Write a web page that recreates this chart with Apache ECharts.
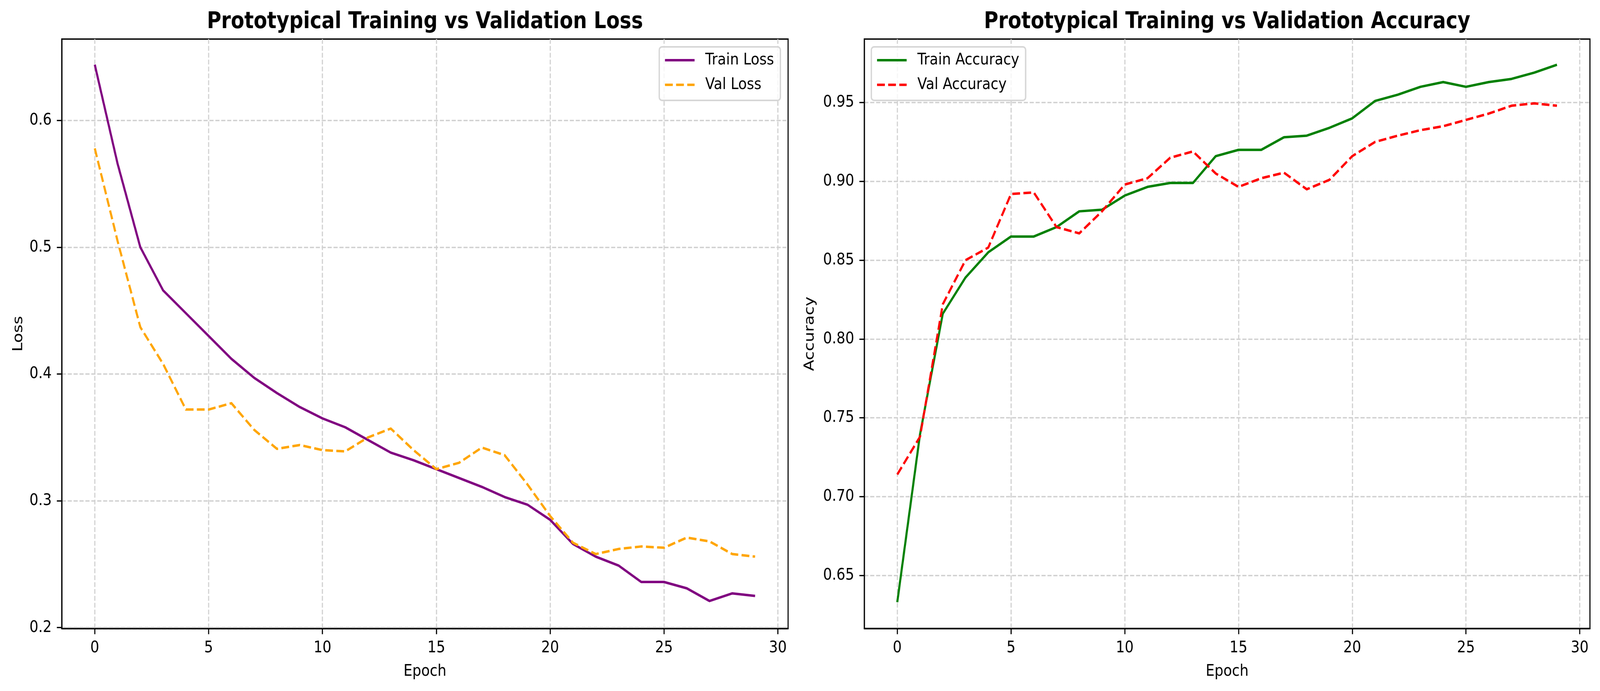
<!DOCTYPE html>
<html>
<head>
<meta charset="utf-8">
<script src="https://cdn.jsdelivr.net/npm/echarts@6/dist/echarts.min.js"></script>
<style>
html,body{margin:0;padding:0;background:#fff;overflow:hidden;}
#chart{width:4767px;height:1769px;transform-origin:0 0;position:absolute;left:0;top:0;}
</style>
</head>
<body>
<div id="chart"></div>
<script>
const epochs = [0,1,2,3,4,5,6,7,8,9,10,11,12,13,14,15,16,17,18,19,20,21,22,23,24,25,26,27,28,29];
const trainLoss = [0.644,0.566,0.500,0.466,0.448,0.430,0.412,0.397,0.385,0.374,0.365,0.358,0.348,0.338,0.332,0.325,0.318,0.311,0.303,0.297,0.285,0.266,0.256,0.249,0.236,0.236,0.231,0.221,0.227,0.225];
const valLoss = [0.578,0.505,0.437,0.408,0.372,0.372,0.377,0.356,0.341,0.344,0.340,0.339,0.350,0.357,0.340,0.325,0.330,0.342,0.336,0.313,0.288,0.267,0.258,0.262,0.264,0.263,0.271,0.268,0.258,0.256];
const trainAcc = [0.633,0.7395,0.816,0.839,0.855,0.865,0.865,0.871,0.881,0.882,0.891,0.8965,0.899,0.899,0.916,0.920,0.920,0.928,0.929,0.934,0.940,0.951,0.955,0.960,0.963,0.960,0.963,0.965,0.969,0.974];
const valAcc = [0.714,0.738,0.822,0.850,0.858,0.892,0.893,0.871,0.867,0.881,0.898,0.902,0.915,0.919,0.905,0.8965,0.902,0.9055,0.895,0.901,0.916,0.925,0.929,0.9325,0.935,0.939,0.943,0.948,0.9495,0.948];
const xTicks = [0,5,10,15,20,25,30];
const lossTicks = [0.2,0.3,0.4,0.5,0.6];
const accTicks = [0.65,0.70,0.75,0.80,0.85,0.90,0.95];

const FONT = 'DejaVu Sans';
const FS = 41.7;
const pair = (xs, ys) => xs.map((x, i) => [x, ys[i]]);

const el = document.getElementById('chart');
const sx = window.innerWidth / 4767, sy = window.innerHeight / 1769;
el.style.transform = 'scale(' + sx + ',' + sy + ')';

function xAxisCfg(gridIndex) {
  return {
    type: 'value', gridIndex: gridIndex, min: -1.45, max: 30.45,
    name: 'Epoch', nameLocation: 'middle', nameGap: 89,
    nameTextStyle: {fontFamily: FONT, fontSize: FS, color: '#000'},
    axisLine: {show: true, onZero: false, lineStyle: {color: '#000', width: 3.3}},
    axisTick: {show: true, length: 14.6, customValues: xTicks, lineStyle: {color: '#000', width: 3.3}},
    axisLabel: {customValues: xTicks, margin: 29, fontFamily: FONT, fontSize: FS, color: '#000'},
    splitLine: {show: true, lineStyle: {color: '#d0d0d0', width: 3.3, type: [12.3, 5.3]}}
  };
}
function yAxisCfg(gridIndex, name, min, max, ticks, dec, gap) {
  return {
    type: 'value', gridIndex: gridIndex, min: min, max: max,
    name: name, nameLocation: 'middle', nameGap: gap,
    nameTextStyle: {fontFamily: FONT, fontSize: FS, color: '#000'},
    axisLine: {show: true, onZero: false, lineStyle: {color: '#000', width: 3.3}},
    axisTick: {show: true, length: 14.6, customValues: ticks, lineStyle: {color: '#000', width: 3.3}},
    axisLabel: {customValues: ticks, margin: 30, fontFamily: FONT, fontSize: FS, color: '#000',
      formatter: v => Number(v).toFixed(dec)},
    splitLine: {show: true, lineStyle: {color: '#d0d0d0', width: 3.3, type: [12.3, 5.3]}}
  };
}
function legendCfg(names, pos) {
  return Object.assign({
    orient: 'vertical', data: names,
    itemWidth: 88, itemHeight: 42, itemGap: 21,
    padding: [13, 19, 19, 14],
    backgroundColor: 'rgba(255,255,255,0.8)',
    borderColor: '#d6d6d6', borderWidth: 4, borderRadius: 8,
    itemStyle: {opacity: 0, borderWidth: 0},
    lineStyle: {opacity: 1, width: 6.25},
    textStyle: {fontFamily: FONT, fontSize: FS, color: '#000', padding: [0, 0, 0, 27], lineHeight: 42},
    selectedMode: false
  }, pos);
}
function lineSeries(name, data, color, dashed, xi, yi) {
  return {
    name: name, type: 'line', data: data, xAxisIndex: xi, yAxisIndex: yi,
    symbol: 'none', showSymbol: false, animation: false, silent: true,
    lineStyle: {color: color, width: 6.25, type: dashed ? [23.1, 10] : 'solid', cap: 'butt', join: 'round'},
    itemStyle: {color: color}
  };
}

const chart = echarts.init(el, null, {renderer: 'canvas', devicePixelRatio: 1});
chart.setOption({
  backgroundColor: '#fff',
  animation: false,
  title: [
    {text: 'Prototypical Training vs Validation Loss', left: 1266, top: 28, textAlign: 'center', padding: 0,
     textStyle: {fontFamily: FONT, fontSize: 58.3, fontWeight: 'bold', color: '#000'}},
    {text: 'Prototypical Training vs Validation Accuracy', left: 3656, top: 28, textAlign: 'center', padding: 0,
     textStyle: {fontFamily: FONT, fontSize: 58.3, fontWeight: 'bold', color: '#000'}}
  ],
  grid: [
    {left: 184, top: 100, width: 2164, height: 1509, show: true, borderColor: '#000', borderWidth: 3.3, containLabel: false},
    {left: 2575, top: 100, width: 2162, height: 1509, show: true, borderColor: '#000', borderWidth: 3.3, containLabel: false}
  ],
  legend: [
    legendCfg(['Train Loss', 'Val Loss'], {right: 4767 - 2325, top: 120}),
    legendCfg(['Train Accuracy', 'Val Accuracy'], {left: 2596, top: 120})
  ],
  xAxis: [xAxisCfg(0), xAxisCfg(1)],
  yAxis: [
    yAxisCfg(0, 'Loss', 0.1993, 0.6642, lossTicks, 1, 108),
    yAxisCfg(1, 'Accuracy', 0.6163, 0.9903, accTicks, 2, 141)
  ],
  series: [
    lineSeries('Train Loss', pair(epochs, trainLoss), '#800080', false, 0, 0),
    lineSeries('Val Loss', pair(epochs, valLoss), '#FFA500', true, 0, 0),
    lineSeries('Train Accuracy', pair(epochs, trainAcc), '#008000', false, 1, 1),
    lineSeries('Val Accuracy', pair(epochs, valAcc), '#FF0000', true, 1, 1)
  ]
});
</script>
</body>
</html>
